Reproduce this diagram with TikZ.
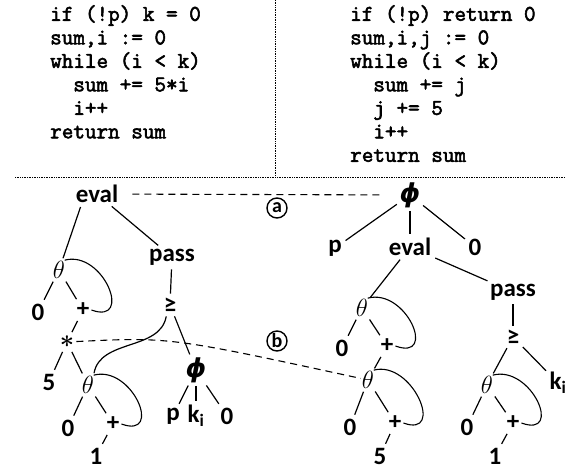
\documentclass[tikz,border=0pt]{standalone}
\usepackage{amsmath}
\usepackage{fontspec}
\setmainfont{Carlito}
\newfontfamily\codefont{Latin Modern Mono}[FakeBold=2.5]
\newfontfamily\phifont{DejaVu Sans}
\usetikzlibrary{positioning}

\begin{document}
\begin{tikzpicture}[
    x=1pt, y=1pt, on grid,
    lbl/.style={font=\fontsize{25}{25}\selectfont\bfseries, inner sep=2pt},
    greek/.style={font=\fontsize{31}{31}\selectfont, inner sep=1pt},
    phinode/.style={font=\fontsize{26}{26}\selectfont\phifont\bfseries\itshape, inner sep=1pt},
    circ/.style={circle, draw, line width=1.4pt, minimum size=20pt, inner sep=0pt, font=\fontsize{20}{20}\selectfont\bfseries},
    code/.style={font=\fontsize{22.5}{23.5}\selectfont\codefont, align=left, anchor=north west, inner sep=0pt},
    tline/.style={line width=1.2pt, shorten <=2pt, shorten >=2pt},
    backedge/.style={line width=1.1pt, to path={.. controls +(15:40) and +(-20:45) .. (\tikztotarget)}},
    match/.style={line width=1.1pt, dash pattern=on 7pt off 5pt},
    divider/.style={line width=0.7pt, densely dotted}
  ]
    \useasboundingbox (0,0) rectangle (565,-469);

    % Code
    \node[code] (codeL) at (50,-5) {if (!p) k = 0\\sum,i := 0\\while (i < k)\\\hphantom{xx}sum += 5*i\\\hphantom{xx}i++\\return sum};
    \node[code] (codeR) at (350,-5) {if (!p) return 0\\sum,i,j := 0\\while (i < k)\\\hphantom{xx}sum += j\\\hphantom{xx}j += 5\\\hphantom{xx}i++\\return sum};
    \draw[divider] (275,0) -- (275,-177);
    \draw[divider] (15,-177) -- (565,-177);

    % Left graph
    \node[lbl] (evalL) at (97,-194) {eval};
    \node[greek, below left=76pt and 38pt of evalL] (thA) {$\theta$};
    \node[lbl, below right=63pt and 75pt of evalL] (passL) {pass};
    \node[lbl, below left=42pt and 21pt of thA] (zA) {0};
    \node[lbl, below right=40pt and 24pt of thA] (plA) {+};
    \node[lbl, below left=48pt and 2pt of passL] (geL) {≥};
    \node[lbl, below left=32pt and 16pt of plA] (star) {$\boldsymbol{\ast}$};
    \node[phinode, below right=65pt and 26pt of geL] (phiL) {ϕ};
    \node[lbl, below left=40pt and 18pt of star] (five) {5};
    \node[greek, below right=43pt and 21pt of star] (thB) {$\theta$};
    \node[lbl, below left=46pt and 23pt of phiL] (pL) {p};
    \node[lbl, below=46pt of phiL] (kL) {k\textsubscript{i}};
    \node[lbl, below right=46pt and 31pt of phiL] (zL) {0};
    \node[lbl, below left=43pt and 20pt of thB] (zB) {0};
    \node[lbl, below right=39pt and 25pt of thB] (plB) {+};
    \node[lbl, below left=32pt and 17pt of plB] (one) {1};

    % Right graph
    \node[phinode] (phiR) at (410,-195) {ϕ};
    \node[lbl, below left=53pt and 75pt of phiR] (pR) {p};
    \node[lbl, below=52pt of phiR] (evalR) {eval};
    \node[lbl, below right=52pt and 65pt of phiR] (zR) {0};
    \node[greek, below left=61pt and 48pt of evalR] (thC) {$\theta$};
    \node[lbl, below right=45pt and 103pt of evalR] (passR) {pass};
    \node[lbl, below left=40pt and 20pt of thC] (zC) {0};
    \node[lbl, below right=38pt and 25pt of thC] (plC) {+};
    \node[greek, below left=34pt and 19pt of plC] (thD) {$\theta$};
    \node[lbl, below left=47pt and 18pt of thD] (zD) {0};
    \node[lbl, below right=43pt and 27pt of thD] (plD) {+};
    \node[lbl, below left=33pt and 15pt of plD] (fiveR) {5};
    \node[lbl, below=45pt of passR] (geR) {≥};
    \node[greek, below left=48pt and 26pt of geR] (thE) {$\theta$};
    \node[lbl, below right=46pt and 45pt of geR] (kR) {k\textsubscript{i}};
    \node[lbl, below left=42pt and 20pt of thE] (zE) {0};
    \node[lbl, below right=38pt and 26pt of thE] (plE) {+};
    \node[lbl, below left=33pt and 18pt of plE] (oneR) {1};

    \node[circ] (ca) at (277,-208) {a};
    \node[circ] (cb) at (277,-341) {b};

    % Edges
    \draw[tline] (evalL.215) -- (thA);
    \draw[tline] (evalL) -- (passL);
    \draw[tline] (passL) -- (geL);
    \draw[tline] (thA) -- (zA);
    \draw[tline] (thA) -- (plA);
    \draw[tline] (plA) -- (star);
    \draw[tline] (star) -- (five);
    \draw[tline] (star) -- (thB);
    \draw[tline] (thB) -- (zB);
    \draw[tline] (thB) -- (plB);
    \draw[tline] (plB) -- (one);
    \draw[tline] (geL) -- (phiL);
    \draw[tline] (phiL) -- (pL);
    \draw[tline] (phiL) -- (kL);
    \draw[tline] (phiL) -- (zL);
    \draw[tline] (geL.250) to[out=-100, in=80] (thB.60);

    \draw[tline] (phiR) -- (pR);
    \draw[tline] (phiR) -- (evalR);
    \draw[tline] (phiR) -- (zR);
    \draw[tline] (evalR) -- (thC);
    \draw[tline] (evalR) -- (passR);
    \draw[tline] (passR) -- (geR);
    \draw[tline] (thC) -- (zC);
    \draw[tline] (thC) -- (plC);
    \draw[tline] (plC) -- (thD);
    \draw[tline] (thD) -- (zD);
    \draw[tline] (thD) -- (plD);
    \draw[tline] (plD) -- (fiveR);
    \draw[tline] (geR) -- (thE);
    \draw[tline] (geR) -- (kR);
    \draw[tline] (thE) -- (zE);
    \draw[tline] (thE) -- (plE);
    \draw[tline] (plE) -- (oneR);

    % Loops
    \draw[backedge] (thA.60) to (plA.east);
    \draw[backedge] (thB.60) to (plB.east);
    \draw[backedge] (thC.60) to (plC.east);
    \draw[backedge] (thD.60) to (plD.east);
    \draw[backedge] (thE.60) to (plE.east);

    % Matches
    \draw[match, shorten <=12pt, shorten >=19pt] (evalL) -- (phiR);
    \draw[match] (star) .. controls (170,-337) .. (thD);
\end{tikzpicture}
\end{document}
